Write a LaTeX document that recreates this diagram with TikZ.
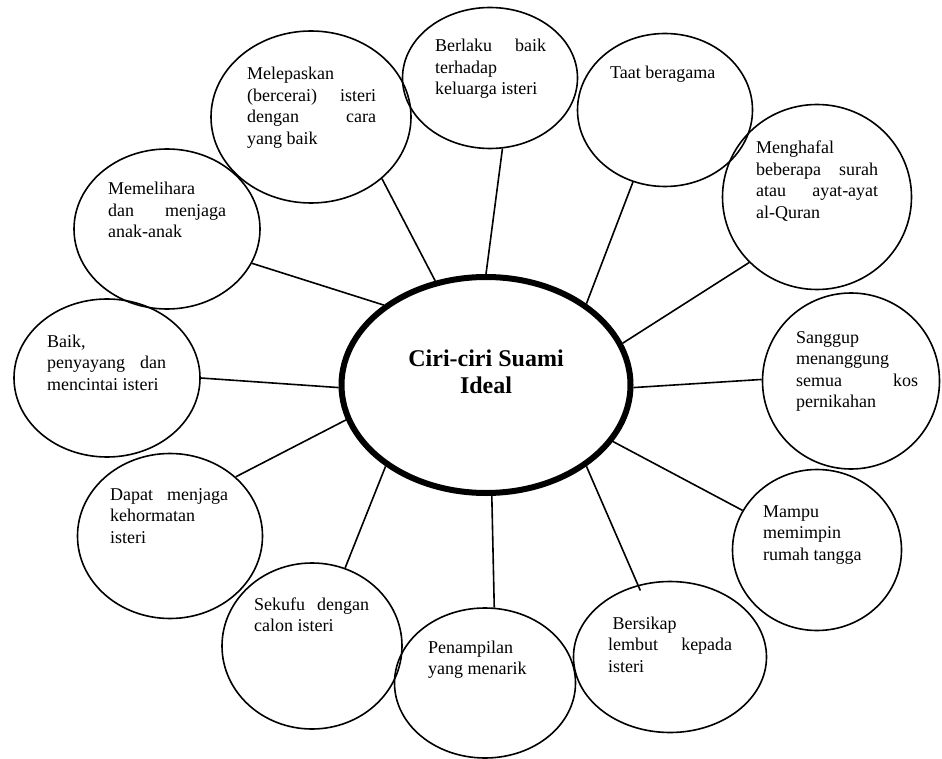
\documentclass[tikz,border=0pt]{standalone}
\usepackage{fontspec}
\setmainfont{Liberation Serif}
\usetikzlibrary{shapes.geometric}
\hyphenpenalty=10000
\exhyphenpenalty=10000
\tikzset{
  Bulatan/.style={ellipse, draw, line width=1.6pt, inner sep=0pt},
  Teks/.style={anchor=base west, inner sep=0pt, align=justify, font=\fontsize{18}{21.5}\selectfont},
  Garis/.style={line width=1.6pt}
}

\begin{document}
\begin{tikzpicture}[x=1pt,y=-1pt]
\useasboundingbox (0,0) rectangle (942,759);
\node[Bulatan, line width=6pt, minimum width=289pt, minimum height=216pt] (pusat) at (486,385) {};
\node[font=\fontsize{24}{27.5}\selectfont\bfseries, align=center, inner sep=0pt] (judul) at (486,372) {Ciri-ciri Suami\\Ideal};
\node[Bulatan, minimum width=175pt, minimum height=141pt] (berlaku) at (490,78) {};
\node[Bulatan, minimum width=200pt, minimum height=172pt] (lepas) at (311,117) {};
\node[Bulatan, minimum width=175pt, minimum height=153pt] (taat) at (665,110) {};
\node[Bulatan, minimum width=189pt, minimum height=185pt] (hafal) at (817,197) {};
\node[Bulatan, minimum width=177pt, minimum height=176pt] (sanggup) at (851,381) {};
\node[Bulatan, minimum width=169pt, minimum height=161pt] (mampu) at (817,550) {};
\node[Bulatan, minimum width=193pt, minimum height=151pt] (lembut) at (670,657) {};
\node[Bulatan, minimum width=181pt, minimum height=150pt] (tampil) at (485,683) {};
\node[Bulatan, minimum width=180pt, minimum height=166pt] (sekufu) at (312,646) {};
\node[Bulatan, minimum width=185pt, minimum height=165pt] (jaga) at (170,536) {};
\node[Bulatan, minimum width=186pt, minimum height=158pt] (baik) at (107,378) {};
\node[Bulatan, minimum width=186pt, minimum height=160pt] (pelihara) at (167,229) {};
\node[Teks, text width=111pt] (t-berlaku) at (435,52) {Berlaku baik\linebreak terhadap\linebreak keluarga isteri};
\node[Teks, text width=129pt] (t-lepas) at (247,80) {Melepaskan\linebreak (bercerai) isteri\linebreak dengan cara\linebreak yang baik};
\node[Teks, text width=120pt] (t-taat) at (610,79) {Taat beragama};
\node[Teks, text width=122pt] (t-hafal) at (756,154) {Menghafal\linebreak beberapa surah\linebreak atau ayat-ayat\linebreak al-Quran};
\node[Teks, text width=122pt] (t-sanggup) at (796,343) {Sanggup\linebreak menanggung\linebreak semua kos\linebreak pernikahan};
\node[Teks, text width=115pt] (t-mampu) at (763,517) {Mampu\linebreak memimpin\linebreak rumah tangga};
\node[Teks, text width=124pt] (t-lembut) at (608,629) {\hspace*{4.5pt}Bersikap\linebreak lembut kepada\linebreak isteri};
\node[Teks, text width=115pt] (t-tampil) at (428,653) {Penampilan\linebreak yang menarik};
\node[Teks, text width=115pt] (t-sekufu) at (254,610) {Sekufu dengan\linebreak calon isteri};
\node[Teks, text width=118pt] (t-jaga) at (110,500) {Dapat menjaga\linebreak kehormatan\linebreak isteri};
\node[Teks, text width=119pt] (t-baik) at (47,347) {Baik,\linebreak penyayang dan\linebreak mencintai isteri};
\node[Teks, text width=118pt] (t-pelihara) at (108,195) {Memelihara\linebreak dan menjaga\linebreak anak-anak};
\draw[Garis] (pusat.90) -- (berlaku.280);
\draw[Garis] (pusat.116) -- (lepas.319);
\draw[Garis] (pusat.39) -- (taat.246);
\draw[Garis] (pusat.17) -- (hafal.224);
\draw[Garis] (pusat.359) -- (sanggup.179);
\draw[Garis] (pusat.336) -- (mampu.152);
\draw[Garis, shorten >=-6pt] (pusat.321) -- (lembut.114);
\draw[Garis] (pusat.273) -- (tampil.83);
\draw[Garis] (pusat.219) -- (sekufu.67);
\draw[Garis] (pusat.194) -- (jaga.42);
\draw[Garis] (pusat.181) -- (baik.0);
\draw[Garis] (pusat.142) -- (pelihara.338);
\end{tikzpicture}
\end{document}
